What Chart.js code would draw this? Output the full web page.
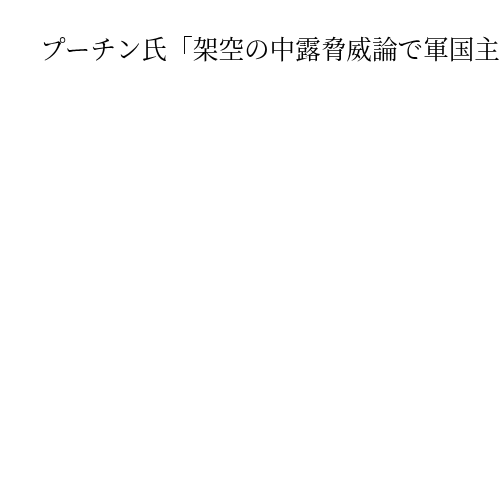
<!DOCTYPE html>
<html>
<head>
<meta charset="utf-8">
<script src="https://cdn.jsdelivr.net/npm/chart.js@4"></script>
<style>
  body { margin: 0; background: #fff; }
</style>
</head>
<body>
<canvas id="chart" width="500" height="500"></canvas>
<script>
// the reference shows only the title, no marks are drawn
const categories = [];
const values = [];
const titleText = "プーチン氏「架空の中露脅威論で軍国主";

const ctx = document.getElementById("chart").getContext("2d");

const chart = new Chart(ctx, {
  type: "bar",
  data: {
    labels: categories,
    datasets: [
      {
        label: "",
        data: values,
        backgroundColor: "#1f77b4",
      },
    ],
  },
  options: {
    responsive: false,
    animation: false,
    layout: {
      padding: { left: 40, top: 0, right: 0, bottom: 0 },
    },
    plugins: {
      legend: { display: false },
      tooltip: { enabled: false },
      title: {
        display: true,
        text: titleText,
        align: "start",
        color: "#000",
        font: {
          family: "'Noto Serif CJK JP', 'Noto Sans CJK JP', serif",
          size: 25.6,
          weight: "normal",
        },
        padding: { top: 34, bottom: 10 },
      },
    },
    scales: {
      x: { display: false },
      y: { display: false },
    },
  },
});
</script>
</body>
</html>
